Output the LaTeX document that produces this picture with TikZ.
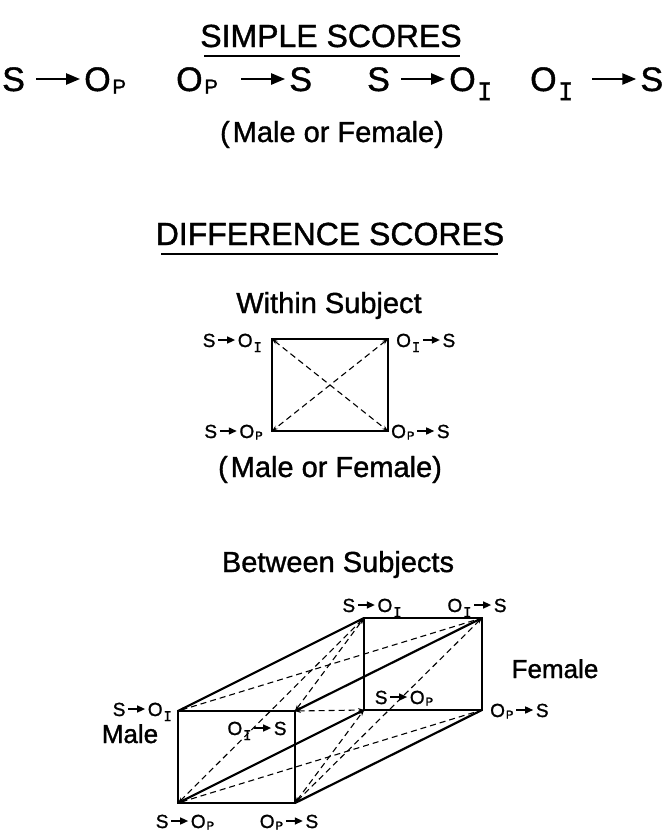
\documentclass[tikz,border=0pt]{standalone}
\usepackage{fontspec}
\usepackage{graphicx}
\setmainfont{Liberation Sans}[FakeBold=1.2]
\setmonofont{DejaVu Sans Mono}[FakeBold=1.2]
\usetikzlibrary{arrows.meta}
\newcommand{\bigarw}{\hspace{10pt}\tikz[baseline=0pt]\draw[line width=2.4pt,-{Triangle[length=14pt,width=11pt]}] (0pt,12pt)--(44pt,12pt);\hspace{3pt}}
\newcommand{\smarw}{\hspace{2pt}\tikz[baseline=0pt]\draw[line width=1.4pt,-{Triangle[length=8pt,width=7pt]}] (0pt,7pt)--(17pt,7pt);\hspace{2pt}}
\newcommand{\sP}{\hspace{0.05em}\raisebox{-0.08em}{\scalebox{0.6}{P}}}
\newcommand{\sI}{\hspace{0.05em}\raisebox{-0.27em}{\scalebox{0.72}{\ttfamily I}}}
\begin{document}
\begin{tikzpicture}[x=1pt,y=-1pt,
  ttl/.style={font=\fontsize{32}{38}\selectfont, anchor=base, inner sep=0pt},
  big/.style={font=\fontsize{34}{40}\selectfont, anchor=base west, inner sep=0pt},
  mid/.style={font=\fontsize{29}{34}\selectfont, anchor=base, inner sep=0pt},
  sex/.style={font=\fontsize{26}{30}\selectfont, anchor=base, inner sep=0pt},
  lab/.style={font=\fontsize{19}{22}\selectfont, anchor=base, inner sep=0pt},
  uline/.style={line width=2.6pt},
  edge/.style={line width=2.2pt, line join=miter},
  dline/.style={dash pattern=on 6pt off 4pt, line width=1.1pt, {Stealth[length=6pt,width=4pt]}-{Stealth[length=6pt,width=4pt]}}]
\useasboundingbox (0,0) rectangle (662,831);

% ---- simple scores
\node[ttl] (t1) at (331,47) {SIMPLE SCORES};
\draw[uline] (204,56) coordinate (u1a) -- (460,56) coordinate (u1b);
\node[big] (r1) at (2,91) {S\bigarw O\sP};
\node[big] (r2) at (176,91) {O\sP\hspace{12pt}\bigarw S};
\node[big] (r3) at (367,91) {S\bigarw O\sI};
\node[big] (r4) at (530,91) {O\sI\hspace{8pt}\bigarw S};
\node[mid] (mf1) at (332,142) {(\hspace{3pt}Male or Female)};

% ---- difference scores
\node[ttl] (t2) at (330,245) {DIFFERENCE SCORES};
\draw[uline] (161,254) coordinate (u2a) -- (498,254) coordinate (u2b);
\node[mid] (within) at (329,313) {Within Subject};

\coordinate (qTL) at (272,339);
\coordinate (qTR) at (388,339);
\coordinate (qBL) at (272,431);
\coordinate (qBR) at (388,431);
\draw[edge] (qTL) -- (qTR) -- (qBR) -- (qBL) -- cycle;
\draw[dline] (qTL) -- (qBR);
\draw[dline] (qTR) -- (qBL);
\node[lab, anchor=base east] (lqTL) at (262,347) {S\smarw O\sI};
\node[lab, anchor=base west] (lqTR) at (396,347) {O\sI\smarw S};
\node[lab, anchor=base east] (lqBL) at (263,438) {S\smarw O\sP};
\node[lab, anchor=base west] (lqBR) at (391,438) {O\sP\smarw S};
\node[mid] (mf2) at (330,477) {(\hspace{3pt}Male or Female)};

% ---- between subjects
\node[mid] (between) at (338,572) {Between Subjects};

\coordinate (FTL) at (178,711);
\coordinate (FTR) at (295,711);
\coordinate (FBL) at (178,803);
\coordinate (FBR) at (295,803);
\coordinate (BTL) at (364,618);
\coordinate (BTR) at (482,618);
\coordinate (BBL) at (364,710);
\coordinate (BBR) at (482,710);

\draw[dline] (FTL) -- (BTR);
\draw[dline] (FBL) -- (BTL);
\draw[dline] (FBL) -- (BBR);
\draw[dline] (FTR) -- (BTL);
\draw[dline] (FTR) -- (BBL);
\draw[dline] (FBR) -- (BBL);
\draw[dline] (FBR) -- (BTR);

\draw[edge] (BTL) -- (BTR) -- (BBR) -- (BBL) -- cycle;
\draw[edge] (FTL) -- (FTR) -- (FBR) -- (FBL) -- cycle;
\draw[edge] (FTL) -- (BTL);
\draw[edge] (FTR) -- (BTR);
\draw[edge] (FBL) -- (BBL);
\draw[edge] (FBR) -- (BBR);

\node[lab] (lBTL) at (372,612) {S\smarw O\sI};
\node[lab] (lBTR) at (477,612) {O\sI\smarw S};
\node[lab, anchor=base east] (lFTL) at (172,716) {S\smarw O\sI};
\node[lab] (lFTR) at (257,735) {O\sI\smarw S};
\node[lab] (lBBL) at (404,704) {S\smarw O\sP};
\node[lab, anchor=base west] (lBBR) at (490,717) {O\sP\smarw S};
\node[lab] (lFBL) at (185,828) {S\smarw O\sP};
\node[lab] (lFBR) at (289,828) {O\sP\smarw S};
\node[sex] (female) at (555,678) {Female};
\node[sex] (male) at (130,743) {Male};
\end{tikzpicture}
\end{document}
